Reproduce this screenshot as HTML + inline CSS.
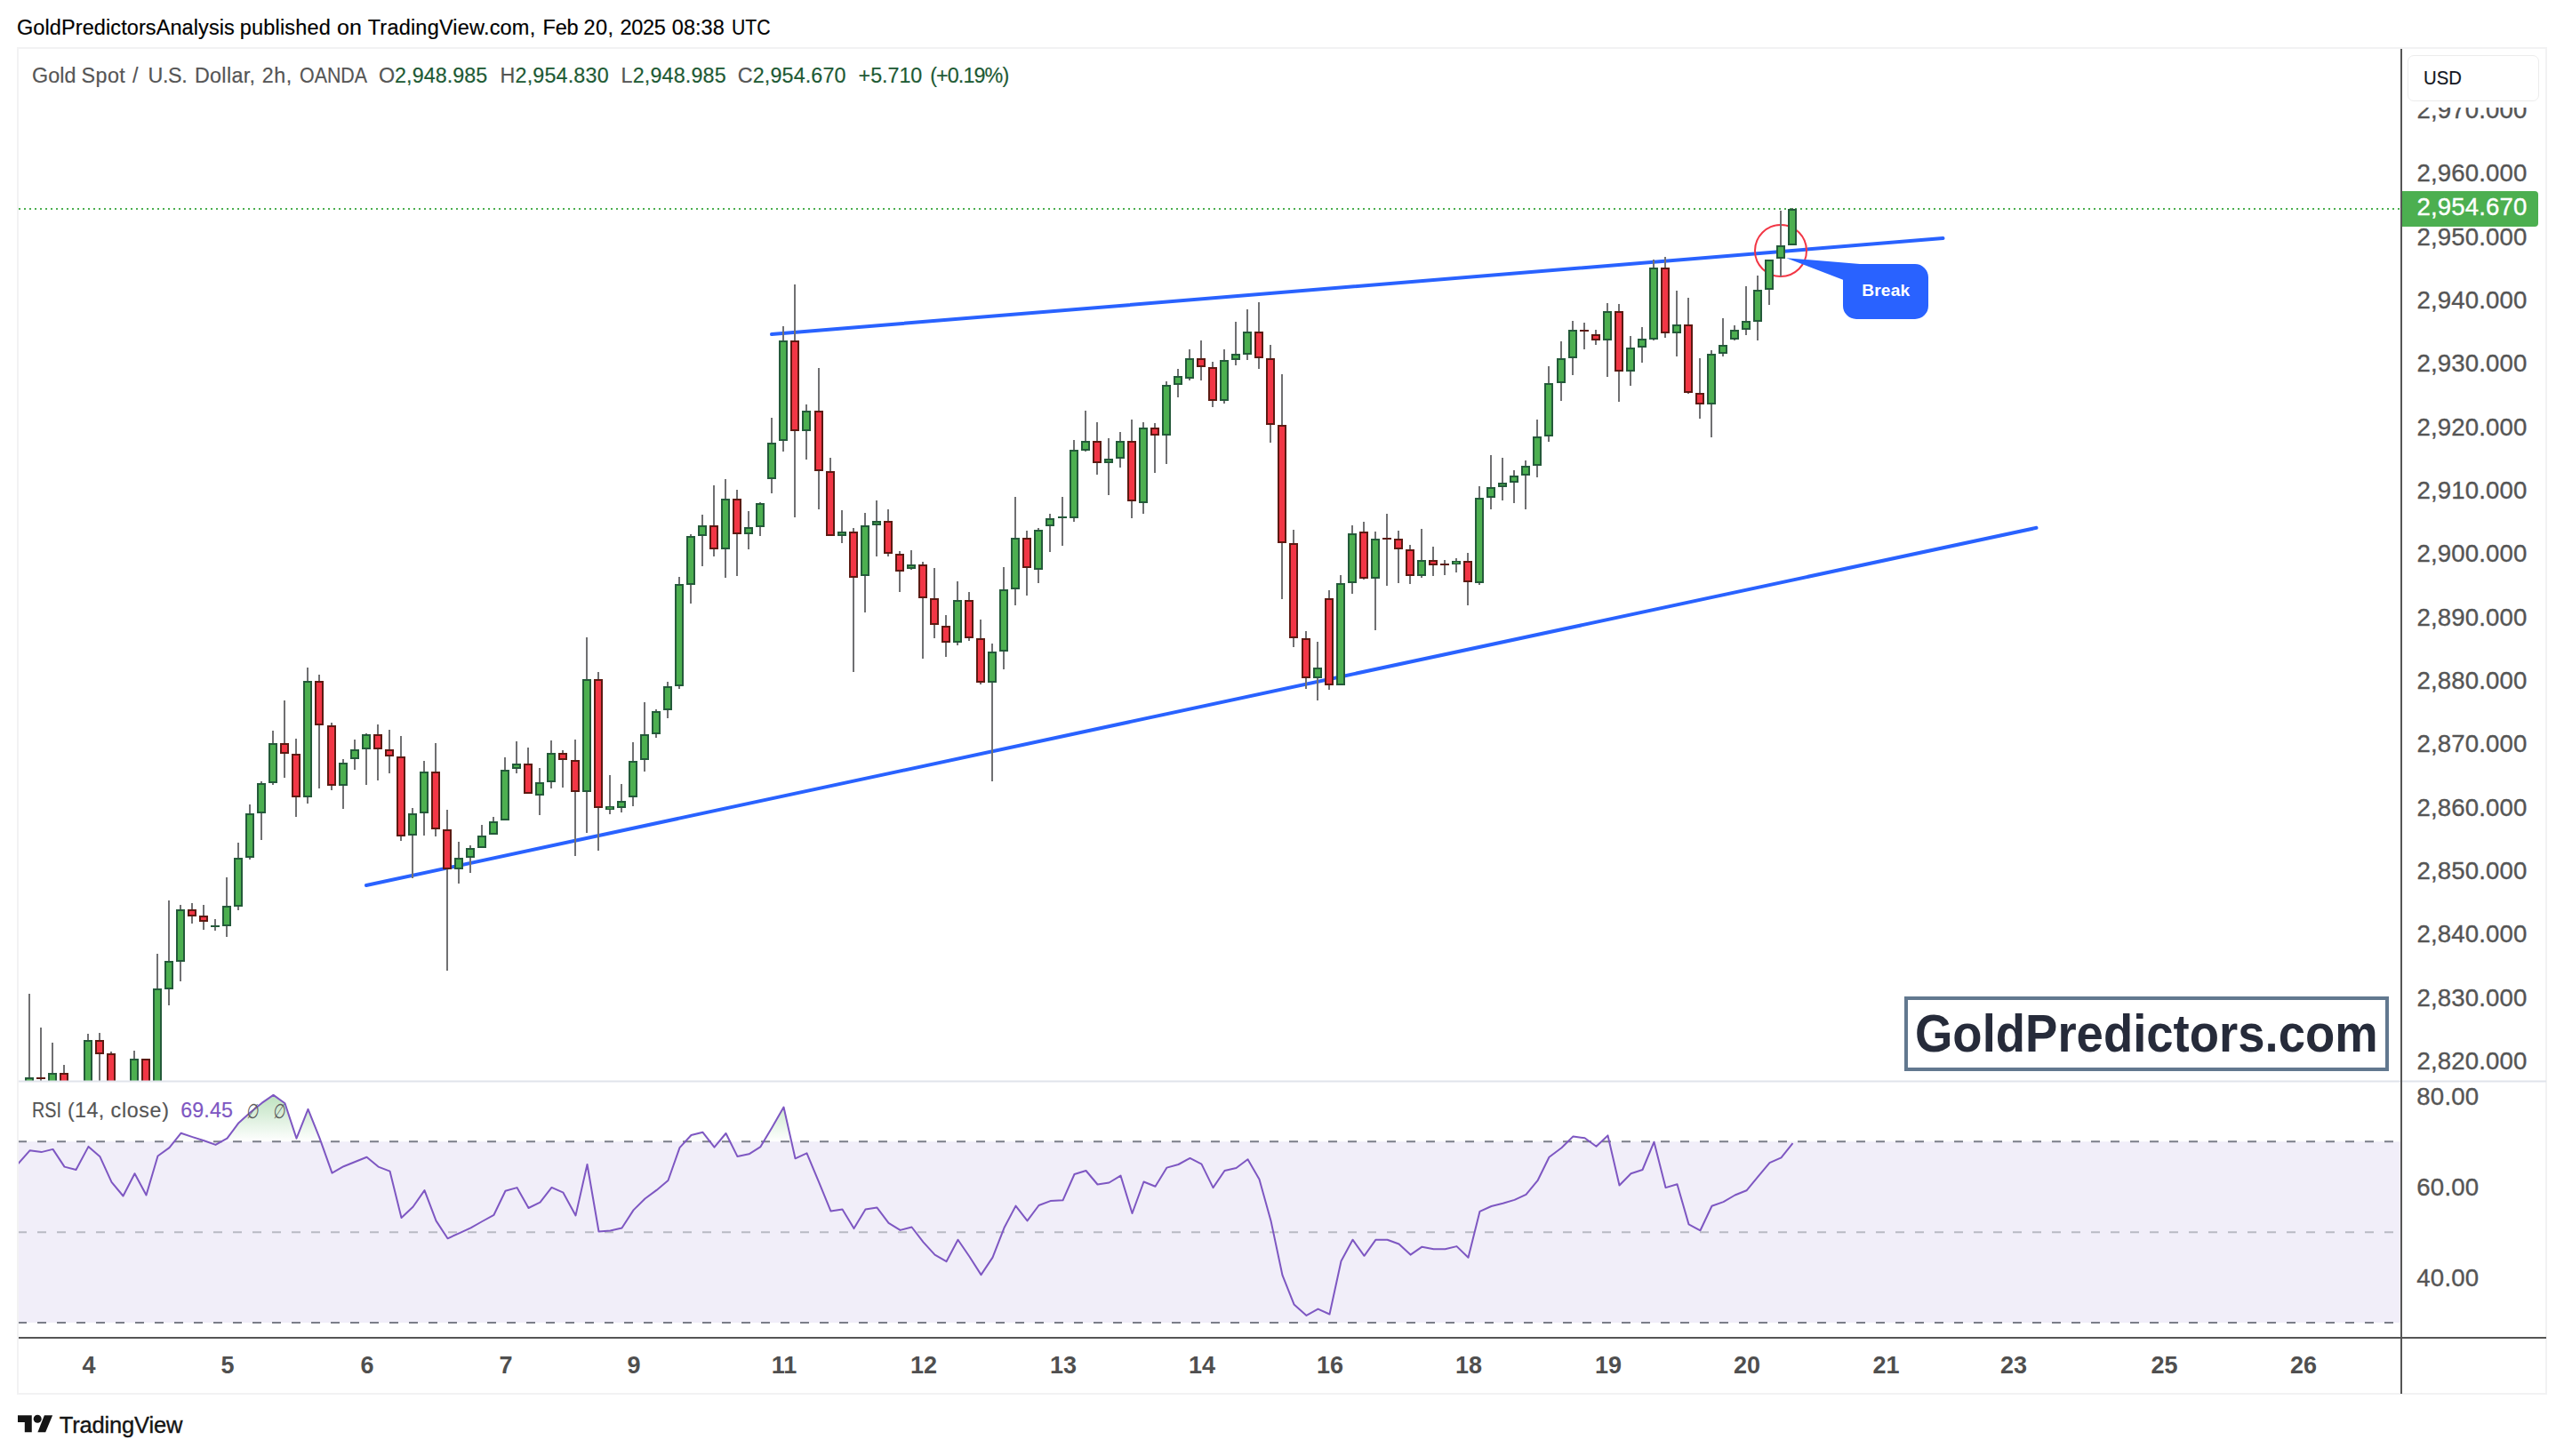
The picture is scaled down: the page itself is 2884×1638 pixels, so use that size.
<!DOCTYPE html>
<html><head><meta charset="utf-8"><title>Gold Spot / U.S. Dollar</title>
<style>
html,body{margin:0;padding:0;background:#fff;}
body{width:2884px;height:1638px;position:relative;overflow:hidden;font-family:"Liberation Sans",sans-serif;}
svg{position:absolute;left:0;top:0;}
.t{position:absolute;white-space:nowrap;line-height:40px;height:40px;-webkit-text-stroke:0.35px currentColor;}
#usdbox{position:absolute;left:2703px;top:56px;width:158px;height:65px;background:#fff;}
#usd{position:absolute;left:2708px;top:62px;width:146px;height:50px;border:1.5px solid #ececec;border-radius:7px;background:#fff;box-sizing:content-box;}
#cur{position:absolute;left:2702px;top:215px;width:153px;height:40px;background:#4caf50;border-radius:0 4px 4px 0;}
#wm{position:absolute;left:2142px;top:1121px;width:537px;height:76px;border:4.5px solid #62788f;background:#fff;}
</style></head><body>
<svg width="2884" height="1638" viewBox="0 0 2884 1638">
<defs>
<clipPath id="cpMain"><rect x="21" y="55" width="2680" height="1161.3"/></clipPath>
<clipPath id="cpRsi"><rect x="21" y="1218" width="2680" height="286"/></clipPath>
<clipPath id="cpOver"><rect x="21" y="1218" width="2680" height="66.29999999999995"/></clipPath>
<linearGradient id="gOver" gradientUnits="userSpaceOnUse" x1="0" y1="1284.3" x2="0" y2="1225"><stop offset="0" stop-color="#4caf50" stop-opacity="0"/><stop offset="1" stop-color="#4caf50" stop-opacity="0.42"/></linearGradient>
</defs>
<!-- frame -->
<rect x="20" y="54" width="2844" height="1514" fill="none" stroke="#f2f2f3" stroke-width="2"/>
<!-- current price dotted line -->
<line x1="21" x2="2701" y1="235" y2="235" stroke="#4caf50" stroke-width="2" stroke-dasharray="2 4"/>
<!-- trend lines -->
<g stroke="#2962ff" stroke-width="4" stroke-linecap="round" fill="none">
<line x1="868" y1="376" x2="2185.5" y2="268"/>
<line x1="412" y1="996" x2="2290.5" y2="593.8"/>
</g>
<circle cx="2003" cy="282" r="29" fill="none" stroke="#f23645" stroke-width="2"/>
<path d="M2009.2,290.2 L2092,297 H2154 a15,15 0 0 1 15,15 V344 a15,15 0 0 1 -15,15 H2088 a15,15 0 0 1 -15,-15 V314.7 Z" fill="#2962ff"/>
<g clip-path="url(#cpMain)">
<g fill="#707072"><rect x="32" y="1118.0" width="2" height="112.0"/><rect x="45" y="1156.0" width="2" height="74.0"/><rect x="58" y="1173.0" width="2" height="57.0"/><rect x="71" y="1198.0" width="2" height="32.0"/><rect x="98" y="1163.0" width="2" height="67.0"/><rect x="111" y="1162.0" width="2" height="68.0"/><rect x="124" y="1183.0" width="2" height="47.0"/><rect x="150" y="1182.0" width="2" height="48.0"/><rect x="163" y="1191.0" width="2" height="39.0"/><rect x="176" y="1073.0" width="2" height="157.0"/><rect x="189" y="1013.0" width="2" height="118.0"/><rect x="202" y="1018.0" width="2" height="86.0"/><rect x="215" y="1016.0" width="2" height="23.0"/><rect x="228" y="1018.0" width="2" height="28.0"/><rect x="241" y="1034.0" width="2" height="13.0"/><rect x="254" y="987.0" width="2" height="67.0"/><rect x="267" y="948.0" width="2" height="76.0"/><rect x="280" y="905.0" width="2" height="62.0"/><rect x="293" y="879.0" width="2" height="66.0"/><rect x="306" y="822.0" width="2" height="61.0"/><rect x="319" y="788.0" width="2" height="87.0"/><rect x="332" y="831.0" width="2" height="88.0"/><rect x="345" y="751.0" width="2" height="153.0"/><rect x="358" y="759.0" width="2" height="128.0"/><rect x="372" y="813.0" width="2" height="76.0"/><rect x="385" y="854.0" width="2" height="56.0"/><rect x="398" y="832.0" width="2" height="34.0"/><rect x="411" y="825.0" width="2" height="58.0"/><rect x="424" y="815.0" width="2" height="63.0"/><rect x="437" y="821.0" width="2" height="49.0"/><rect x="450" y="828.0" width="2" height="118.0"/><rect x="463" y="909.0" width="2" height="79.0"/><rect x="476" y="856.0" width="2" height="84.0"/><rect x="489" y="836.0" width="2" height="105.0"/><rect x="502" y="911.0" width="2" height="181.0"/><rect x="515" y="947.0" width="2" height="47.0"/><rect x="528" y="951.0" width="2" height="31.0"/><rect x="541" y="928.0" width="2" height="26.0"/><rect x="554" y="919.0" width="2" height="20.0"/><rect x="567" y="852.0" width="2" height="71.0"/><rect x="580" y="834.0" width="2" height="36.0"/><rect x="593" y="841.0" width="2" height="52.0"/><rect x="606" y="864.0" width="2" height="53.0"/><rect x="619" y="833.0" width="2" height="54.0"/><rect x="632" y="844.0" width="2" height="42.0"/><rect x="646" y="832.0" width="2" height="131.0"/><rect x="659" y="717.0" width="2" height="220.0"/><rect x="672" y="756.0" width="2" height="201.0"/><rect x="685" y="872.0" width="2" height="44.0"/><rect x="698" y="882.0" width="2" height="32.0"/><rect x="711" y="835.0" width="2" height="72.0"/><rect x="724" y="790.0" width="2" height="78.0"/><rect x="737" y="798.0" width="2" height="32.0"/><rect x="750" y="767.0" width="2" height="41.0"/><rect x="763" y="649.0" width="2" height="126.0"/><rect x="776" y="601.0" width="2" height="78.0"/><rect x="789" y="579.0" width="2" height="58.0"/><rect x="802" y="546.0" width="2" height="80.0"/><rect x="815" y="539.0" width="2" height="111.0"/><rect x="828" y="551.0" width="2" height="97.0"/><rect x="841" y="575.0" width="2" height="43.0"/><rect x="854" y="565.0" width="2" height="38.0"/><rect x="867" y="470.0" width="2" height="85.0"/><rect x="880" y="367.0" width="2" height="141.0"/><rect x="893" y="320.0" width="2" height="262.0"/><rect x="906" y="455.0" width="2" height="62.0"/><rect x="920" y="414.0" width="2" height="159.0"/><rect x="933" y="515.0" width="2" height="88.0"/><rect x="946" y="574.0" width="2" height="37.0"/><rect x="959" y="594.0" width="2" height="162.0"/><rect x="972" y="577.0" width="2" height="112.0"/><rect x="985" y="563.0" width="2" height="63.0"/><rect x="998" y="573.0" width="2" height="53.0"/><rect x="1011" y="620.0" width="2" height="46.0"/><rect x="1024" y="619.0" width="2" height="22.0"/><rect x="1037" y="632.0" width="2" height="109.0"/><rect x="1050" y="639.0" width="2" height="79.0"/><rect x="1063" y="692.0" width="2" height="47.0"/><rect x="1076" y="654.0" width="2" height="72.0"/><rect x="1089" y="666.0" width="2" height="55.0"/><rect x="1102" y="697.0" width="2" height="73.0"/><rect x="1115" y="724.0" width="2" height="155.0"/><rect x="1128" y="638.0" width="2" height="115.0"/><rect x="1141" y="559.0" width="2" height="122.0"/><rect x="1154" y="597.0" width="2" height="73.0"/><rect x="1167" y="594.0" width="2" height="62.0"/><rect x="1180" y="578.0" width="2" height="43.0"/><rect x="1194" y="559.0" width="2" height="55.0"/><rect x="1207" y="495.0" width="2" height="92.0"/><rect x="1220" y="462.0" width="2" height="46.0"/><rect x="1233" y="475.0" width="2" height="59.0"/><rect x="1246" y="493.0" width="2" height="64.0"/><rect x="1259" y="486.0" width="2" height="40.0"/><rect x="1272" y="472.0" width="2" height="111.0"/><rect x="1285" y="475.0" width="2" height="103.0"/><rect x="1298" y="476.0" width="2" height="56.0"/><rect x="1311" y="429.0" width="2" height="93.0"/><rect x="1324" y="415.0" width="2" height="32.0"/><rect x="1337" y="393.0" width="2" height="35.0"/><rect x="1350" y="383.0" width="2" height="45.0"/><rect x="1363" y="407.0" width="2" height="51.0"/><rect x="1376" y="393.0" width="2" height="61.0"/><rect x="1389" y="362.0" width="2" height="49.0"/><rect x="1402" y="348.0" width="2" height="57.0"/><rect x="1415" y="340.0" width="2" height="75.0"/><rect x="1428" y="388.0" width="2" height="110.0"/><rect x="1441" y="421.0" width="2" height="253.0"/><rect x="1454" y="596.0" width="2" height="132.0"/><rect x="1468" y="710.0" width="2" height="65.0"/><rect x="1481" y="722.0" width="2" height="66.0"/><rect x="1494" y="664.0" width="2" height="112.0"/><rect x="1507" y="647.0" width="2" height="124.0"/><rect x="1520" y="591.0" width="2" height="77.0"/><rect x="1533" y="587.0" width="2" height="65.0"/><rect x="1546" y="598.0" width="2" height="111.0"/><rect x="1559" y="578.0" width="2" height="81.0"/><rect x="1572" y="597.0" width="2" height="59.0"/><rect x="1585" y="613.0" width="2" height="44.0"/><rect x="1598" y="595.0" width="2" height="55.0"/><rect x="1611" y="615.0" width="2" height="33.0"/><rect x="1624" y="630.0" width="2" height="17.0"/><rect x="1637" y="628.0" width="2" height="16.0"/><rect x="1650" y="622.0" width="2" height="59.0"/><rect x="1663" y="547.0" width="2" height="111.0"/><rect x="1676" y="512.0" width="2" height="61.0"/><rect x="1689" y="515.0" width="2" height="48.0"/><rect x="1702" y="529.0" width="2" height="37.0"/><rect x="1715" y="518.0" width="2" height="55.0"/><rect x="1728" y="472.0" width="2" height="65.0"/><rect x="1741" y="412.0" width="2" height="85.0"/><rect x="1755" y="384.0" width="2" height="67.0"/><rect x="1768" y="361.0" width="2" height="61.0"/><rect x="1781" y="363.0" width="2" height="30.0"/><rect x="1794" y="371.0" width="2" height="17.0"/><rect x="1807" y="341.0" width="2" height="83.0"/><rect x="1820" y="342.0" width="2" height="110.0"/><rect x="1833" y="378.0" width="2" height="56.0"/><rect x="1846" y="368.0" width="2" height="40.0"/><rect x="1859" y="292.0" width="2" height="91.0"/><rect x="1872" y="289.0" width="2" height="91.0"/><rect x="1885" y="327.0" width="2" height="74.0"/><rect x="1898" y="335.0" width="2" height="108.0"/><rect x="1911" y="403.0" width="2" height="68.0"/><rect x="1924" y="394.0" width="2" height="98.0"/><rect x="1937" y="358.0" width="2" height="43.0"/><rect x="1950" y="366.0" width="2" height="17.0"/><rect x="1963" y="322.0" width="2" height="55.0"/><rect x="1976" y="310.0" width="2" height="73.0"/><rect x="1989" y="292.0" width="2" height="51.0"/><rect x="2002" y="237.0" width="2" height="74.0"/><rect x="2015" y="234.0" width="2" height="42.0"/></g>
<rect x="29" y="1213.0" width="8" height="16.0" fill="#4caf50" stroke="#245a3a" stroke-width="2"/><rect x="41" y="1212.0" width="10" height="2.0" fill="#5c1a12"/><rect x="55" y="1208.0" width="8" height="21.0" fill="#4caf50" stroke="#245a3a" stroke-width="2"/><rect x="68" y="1208.0" width="8" height="21.0" fill="#f23645" stroke="#5c1a12" stroke-width="2"/><rect x="95" y="1171.0" width="8" height="58.0" fill="#4caf50" stroke="#245a3a" stroke-width="2"/><rect x="108" y="1171.0" width="8" height="14.0" fill="#f23645" stroke="#5c1a12" stroke-width="2"/><rect x="121" y="1186.0" width="8" height="43.0" fill="#f23645" stroke="#5c1a12" stroke-width="2"/><rect x="147" y="1192.0" width="8" height="37.0" fill="#4caf50" stroke="#245a3a" stroke-width="2"/><rect x="160" y="1192.0" width="8" height="37.0" fill="#f23645" stroke="#5c1a12" stroke-width="2"/><rect x="173" y="1113.0" width="8" height="116.0" fill="#4caf50" stroke="#245a3a" stroke-width="2"/><rect x="186" y="1082.0" width="8" height="30.0" fill="#4caf50" stroke="#245a3a" stroke-width="2"/><rect x="199" y="1024.0" width="8" height="57.0" fill="#4caf50" stroke="#245a3a" stroke-width="2"/><rect x="212" y="1024.0" width="8" height="6.0" fill="#f23645" stroke="#5c1a12" stroke-width="2"/><rect x="225" y="1031.0" width="8" height="5.0" fill="#f23645" stroke="#5c1a12" stroke-width="2"/><rect x="237" y="1041.0" width="10" height="2.0" fill="#245a3a"/><rect x="251" y="1020.0" width="8" height="21.0" fill="#4caf50" stroke="#245a3a" stroke-width="2"/><rect x="264" y="966.0" width="8" height="53.0" fill="#4caf50" stroke="#245a3a" stroke-width="2"/><rect x="277" y="916.0" width="8" height="48.0" fill="#4caf50" stroke="#245a3a" stroke-width="2"/><rect x="290" y="882.0" width="8" height="32.0" fill="#4caf50" stroke="#245a3a" stroke-width="2"/><rect x="303" y="837.0" width="8" height="43.0" fill="#4caf50" stroke="#245a3a" stroke-width="2"/><rect x="316" y="837.0" width="8" height="10.0" fill="#f23645" stroke="#5c1a12" stroke-width="2"/><rect x="329" y="849.0" width="8" height="47.0" fill="#f23645" stroke="#5c1a12" stroke-width="2"/><rect x="342" y="767.0" width="8" height="129.0" fill="#4caf50" stroke="#245a3a" stroke-width="2"/><rect x="355" y="767.0" width="8" height="48.0" fill="#f23645" stroke="#5c1a12" stroke-width="2"/><rect x="369" y="817.0" width="8" height="66.0" fill="#f23645" stroke="#5c1a12" stroke-width="2"/><rect x="382" y="859.0" width="8" height="24.0" fill="#4caf50" stroke="#245a3a" stroke-width="2"/><rect x="395" y="844.0" width="8" height="9.0" fill="#4caf50" stroke="#245a3a" stroke-width="2"/><rect x="408" y="827.0" width="8" height="15.0" fill="#4caf50" stroke="#245a3a" stroke-width="2"/><rect x="421" y="827.0" width="8" height="15.0" fill="#f23645" stroke="#5c1a12" stroke-width="2"/><rect x="434" y="844.0" width="8" height="6.0" fill="#f23645" stroke="#5c1a12" stroke-width="2"/><rect x="447" y="852.0" width="8" height="88.0" fill="#f23645" stroke="#5c1a12" stroke-width="2"/><rect x="460" y="916.0" width="8" height="23.0" fill="#4caf50" stroke="#245a3a" stroke-width="2"/><rect x="473" y="869.0" width="8" height="45.0" fill="#4caf50" stroke="#245a3a" stroke-width="2"/><rect x="486" y="869.0" width="8" height="63.0" fill="#f23645" stroke="#5c1a12" stroke-width="2"/><rect x="499" y="934.0" width="8" height="43.0" fill="#f23645" stroke="#5c1a12" stroke-width="2"/><rect x="512" y="966.0" width="8" height="11.0" fill="#4caf50" stroke="#245a3a" stroke-width="2"/><rect x="525" y="955.0" width="8" height="9.0" fill="#4caf50" stroke="#245a3a" stroke-width="2"/><rect x="538" y="941.0" width="8" height="12.0" fill="#4caf50" stroke="#245a3a" stroke-width="2"/><rect x="551" y="925.0" width="8" height="13.0" fill="#4caf50" stroke="#245a3a" stroke-width="2"/><rect x="564" y="867.0" width="8" height="55.0" fill="#4caf50" stroke="#245a3a" stroke-width="2"/><rect x="577" y="860.0" width="8" height="4.0" fill="#4caf50" stroke="#245a3a" stroke-width="2"/><rect x="590" y="860.0" width="8" height="32.0" fill="#f23645" stroke="#5c1a12" stroke-width="2"/><rect x="603" y="881.0" width="8" height="13.0" fill="#4caf50" stroke="#245a3a" stroke-width="2"/><rect x="616" y="848.0" width="8" height="31.0" fill="#4caf50" stroke="#245a3a" stroke-width="2"/><rect x="629" y="848.0" width="8" height="6.0" fill="#f23645" stroke="#5c1a12" stroke-width="2"/><rect x="643" y="856.0" width="8" height="34.0" fill="#f23645" stroke="#5c1a12" stroke-width="2"/><rect x="656" y="765.0" width="8" height="125.0" fill="#4caf50" stroke="#245a3a" stroke-width="2"/><rect x="669" y="765.0" width="8" height="143.0" fill="#f23645" stroke="#5c1a12" stroke-width="2"/><rect x="681" y="907.0" width="10" height="4.0" fill="#245a3a"/><rect x="683" y="908.3" width="6" height="1.4" fill="#4caf50"/><rect x="695" y="902.0" width="8" height="6.0" fill="#4caf50" stroke="#245a3a" stroke-width="2"/><rect x="708" y="857.0" width="8" height="39.0" fill="#4caf50" stroke="#245a3a" stroke-width="2"/><rect x="721" y="827.0" width="8" height="27.0" fill="#4caf50" stroke="#245a3a" stroke-width="2"/><rect x="734" y="801.0" width="8" height="24.0" fill="#4caf50" stroke="#245a3a" stroke-width="2"/><rect x="747" y="773.0" width="8" height="25.0" fill="#4caf50" stroke="#245a3a" stroke-width="2"/><rect x="760" y="658.0" width="8" height="113.0" fill="#4caf50" stroke="#245a3a" stroke-width="2"/><rect x="773" y="604.0" width="8" height="53.0" fill="#4caf50" stroke="#245a3a" stroke-width="2"/><rect x="786" y="592.0" width="8" height="10.0" fill="#4caf50" stroke="#245a3a" stroke-width="2"/><rect x="799" y="592.0" width="8" height="25.0" fill="#f23645" stroke="#5c1a12" stroke-width="2"/><rect x="812" y="562.0" width="8" height="55.0" fill="#4caf50" stroke="#245a3a" stroke-width="2"/><rect x="825" y="562.0" width="8" height="38.0" fill="#f23645" stroke="#5c1a12" stroke-width="2"/><rect x="838" y="594.0" width="8" height="6.0" fill="#4caf50" stroke="#245a3a" stroke-width="2"/><rect x="851" y="567.0" width="8" height="25.0" fill="#4caf50" stroke="#245a3a" stroke-width="2"/><rect x="864" y="499.0" width="8" height="39.0" fill="#4caf50" stroke="#245a3a" stroke-width="2"/><rect x="877" y="384.0" width="8" height="111.0" fill="#4caf50" stroke="#245a3a" stroke-width="2"/><rect x="890" y="384.0" width="8" height="100.0" fill="#f23645" stroke="#5c1a12" stroke-width="2"/><rect x="903" y="463.0" width="8" height="21.0" fill="#4caf50" stroke="#245a3a" stroke-width="2"/><rect x="917" y="463.0" width="8" height="66.0" fill="#f23645" stroke="#5c1a12" stroke-width="2"/><rect x="930" y="531.0" width="8" height="71.0" fill="#f23645" stroke="#5c1a12" stroke-width="2"/><rect x="943" y="599.0" width="8" height="3.0" fill="#4caf50" stroke="#245a3a" stroke-width="2"/><rect x="956" y="599.0" width="8" height="50.0" fill="#f23645" stroke="#5c1a12" stroke-width="2"/><rect x="969" y="592.0" width="8" height="55.0" fill="#4caf50" stroke="#245a3a" stroke-width="2"/><rect x="982" y="587.0" width="8" height="3.0" fill="#4caf50" stroke="#245a3a" stroke-width="2"/><rect x="995" y="587.0" width="8" height="35.0" fill="#f23645" stroke="#5c1a12" stroke-width="2"/><rect x="1008" y="624.0" width="8" height="18.0" fill="#f23645" stroke="#5c1a12" stroke-width="2"/><rect x="1021" y="636.0" width="8" height="3.0" fill="#4caf50" stroke="#245a3a" stroke-width="2"/><rect x="1034" y="636.0" width="8" height="36.0" fill="#f23645" stroke="#5c1a12" stroke-width="2"/><rect x="1047" y="674.0" width="8" height="28.0" fill="#f23645" stroke="#5c1a12" stroke-width="2"/><rect x="1060" y="705.0" width="8" height="17.0" fill="#f23645" stroke="#5c1a12" stroke-width="2"/><rect x="1073" y="676.0" width="8" height="46.0" fill="#4caf50" stroke="#245a3a" stroke-width="2"/><rect x="1086" y="676.0" width="8" height="41.0" fill="#f23645" stroke="#5c1a12" stroke-width="2"/><rect x="1099" y="719.0" width="8" height="48.0" fill="#f23645" stroke="#5c1a12" stroke-width="2"/><rect x="1112" y="734.0" width="8" height="33.0" fill="#4caf50" stroke="#245a3a" stroke-width="2"/><rect x="1125" y="664.0" width="8" height="68.0" fill="#4caf50" stroke="#245a3a" stroke-width="2"/><rect x="1138" y="606.0" width="8" height="56.0" fill="#4caf50" stroke="#245a3a" stroke-width="2"/><rect x="1151" y="606.0" width="8" height="32.0" fill="#f23645" stroke="#5c1a12" stroke-width="2"/><rect x="1164" y="597.0" width="8" height="43.0" fill="#4caf50" stroke="#245a3a" stroke-width="2"/><rect x="1177" y="584.0" width="8" height="7.0" fill="#4caf50" stroke="#245a3a" stroke-width="2"/><rect x="1190" y="581.0" width="10" height="2.0" fill="#245a3a"/><rect x="1204" y="507.0" width="8" height="75.0" fill="#4caf50" stroke="#245a3a" stroke-width="2"/><rect x="1217" y="497.0" width="8" height="9.0" fill="#4caf50" stroke="#245a3a" stroke-width="2"/><rect x="1230" y="497.0" width="8" height="23.0" fill="#f23645" stroke="#5c1a12" stroke-width="2"/><rect x="1243" y="517.0" width="8" height="3.0" fill="#4caf50" stroke="#245a3a" stroke-width="2"/><rect x="1256" y="497.0" width="8" height="18.0" fill="#4caf50" stroke="#245a3a" stroke-width="2"/><rect x="1269" y="497.0" width="8" height="66.0" fill="#f23645" stroke="#5c1a12" stroke-width="2"/><rect x="1282" y="482.0" width="8" height="83.0" fill="#4caf50" stroke="#245a3a" stroke-width="2"/><rect x="1295" y="482.0" width="8" height="7.0" fill="#f23645" stroke="#5c1a12" stroke-width="2"/><rect x="1308" y="434.0" width="8" height="55.0" fill="#4caf50" stroke="#245a3a" stroke-width="2"/><rect x="1321" y="424.0" width="8" height="8.0" fill="#4caf50" stroke="#245a3a" stroke-width="2"/><rect x="1334" y="404.0" width="8" height="21.0" fill="#4caf50" stroke="#245a3a" stroke-width="2"/><rect x="1347" y="404.0" width="8" height="8.0" fill="#f23645" stroke="#5c1a12" stroke-width="2"/><rect x="1360" y="414.0" width="8" height="36.0" fill="#f23645" stroke="#5c1a12" stroke-width="2"/><rect x="1373" y="406.0" width="8" height="44.0" fill="#4caf50" stroke="#245a3a" stroke-width="2"/><rect x="1386" y="399.0" width="8" height="5.0" fill="#4caf50" stroke="#245a3a" stroke-width="2"/><rect x="1399" y="374.0" width="8" height="24.0" fill="#4caf50" stroke="#245a3a" stroke-width="2"/><rect x="1412" y="374.0" width="8" height="28.0" fill="#f23645" stroke="#5c1a12" stroke-width="2"/><rect x="1425" y="404.0" width="8" height="73.0" fill="#f23645" stroke="#5c1a12" stroke-width="2"/><rect x="1438" y="479.0" width="8" height="131.0" fill="#f23645" stroke="#5c1a12" stroke-width="2"/><rect x="1451" y="612.0" width="8" height="105.0" fill="#f23645" stroke="#5c1a12" stroke-width="2"/><rect x="1465" y="719.0" width="8" height="43.0" fill="#f23645" stroke="#5c1a12" stroke-width="2"/><rect x="1478" y="752.0" width="8" height="10.0" fill="#4caf50" stroke="#245a3a" stroke-width="2"/><rect x="1491" y="674.0" width="8" height="96.0" fill="#f23645" stroke="#5c1a12" stroke-width="2"/><rect x="1504" y="657.0" width="8" height="113.0" fill="#4caf50" stroke="#245a3a" stroke-width="2"/><rect x="1517" y="601.0" width="8" height="54.0" fill="#4caf50" stroke="#245a3a" stroke-width="2"/><rect x="1530" y="599.0" width="8" height="51.0" fill="#f23645" stroke="#5c1a12" stroke-width="2"/><rect x="1543" y="607.0" width="8" height="43.0" fill="#4caf50" stroke="#245a3a" stroke-width="2"/><rect x="1555" y="605.0" width="10" height="2.0" fill="#5c1a12"/><rect x="1569" y="607.0" width="8" height="10.0" fill="#f23645" stroke="#5c1a12" stroke-width="2"/><rect x="1582" y="619.0" width="8" height="28.0" fill="#f23645" stroke="#5c1a12" stroke-width="2"/><rect x="1595" y="631.0" width="8" height="16.0" fill="#4caf50" stroke="#245a3a" stroke-width="2"/><rect x="1608" y="631.0" width="8" height="4.0" fill="#f23645" stroke="#5c1a12" stroke-width="2"/><rect x="1620" y="634.0" width="10" height="2.0" fill="#5c1a12"/><rect x="1633" y="631.0" width="10" height="4.0" fill="#245a3a"/><rect x="1635" y="632.3" width="6" height="1.4" fill="#4caf50"/><rect x="1647" y="632.0" width="8" height="22.0" fill="#f23645" stroke="#5c1a12" stroke-width="2"/><rect x="1660" y="561.0" width="8" height="94.0" fill="#4caf50" stroke="#245a3a" stroke-width="2"/><rect x="1673" y="549.0" width="8" height="10.0" fill="#4caf50" stroke="#245a3a" stroke-width="2"/><rect x="1686" y="544.0" width="8" height="3.0" fill="#4caf50" stroke="#245a3a" stroke-width="2"/><rect x="1699" y="536.0" width="8" height="6.0" fill="#4caf50" stroke="#245a3a" stroke-width="2"/><rect x="1712" y="525.0" width="8" height="9.0" fill="#4caf50" stroke="#245a3a" stroke-width="2"/><rect x="1725" y="492.0" width="8" height="31.0" fill="#4caf50" stroke="#245a3a" stroke-width="2"/><rect x="1738" y="432.0" width="8" height="58.0" fill="#4caf50" stroke="#245a3a" stroke-width="2"/><rect x="1752" y="404.0" width="8" height="26.0" fill="#4caf50" stroke="#245a3a" stroke-width="2"/><rect x="1765" y="372.0" width="8" height="30.0" fill="#4caf50" stroke="#245a3a" stroke-width="2"/><rect x="1777" y="371.0" width="10" height="2.0" fill="#5c1a12"/><rect x="1791" y="377.0" width="8" height="5.0" fill="#f23645" stroke="#5c1a12" stroke-width="2"/><rect x="1804" y="351.0" width="8" height="31.0" fill="#4caf50" stroke="#245a3a" stroke-width="2"/><rect x="1817" y="351.0" width="8" height="66.0" fill="#f23645" stroke="#5c1a12" stroke-width="2"/><rect x="1830" y="392.0" width="8" height="25.0" fill="#4caf50" stroke="#245a3a" stroke-width="2"/><rect x="1843" y="382.0" width="8" height="8.0" fill="#4caf50" stroke="#245a3a" stroke-width="2"/><rect x="1856" y="302.0" width="8" height="79.0" fill="#4caf50" stroke="#245a3a" stroke-width="2"/><rect x="1869" y="302.0" width="8" height="72.0" fill="#f23645" stroke="#5c1a12" stroke-width="2"/><rect x="1882" y="366.0" width="8" height="8.0" fill="#4caf50" stroke="#245a3a" stroke-width="2"/><rect x="1895" y="366.0" width="8" height="75.0" fill="#f23645" stroke="#5c1a12" stroke-width="2"/><rect x="1908" y="443.0" width="8" height="11.0" fill="#f23645" stroke="#5c1a12" stroke-width="2"/><rect x="1921" y="399.0" width="8" height="55.0" fill="#4caf50" stroke="#245a3a" stroke-width="2"/><rect x="1934" y="389.0" width="8" height="8.0" fill="#4caf50" stroke="#245a3a" stroke-width="2"/><rect x="1947" y="372.0" width="8" height="9.0" fill="#4caf50" stroke="#245a3a" stroke-width="2"/><rect x="1960" y="362.0" width="8" height="8.0" fill="#4caf50" stroke="#245a3a" stroke-width="2"/><rect x="1973" y="327.0" width="8" height="34.0" fill="#4caf50" stroke="#245a3a" stroke-width="2"/><rect x="1986" y="293.0" width="8" height="32.0" fill="#4caf50" stroke="#245a3a" stroke-width="2"/><rect x="1999" y="277.0" width="8" height="13.0" fill="#4caf50" stroke="#245a3a" stroke-width="2"/><rect x="2012" y="236.0" width="8" height="39.0" fill="#4caf50" stroke="#245a3a" stroke-width="2"/>
</g>
<!-- pane separator -->
<rect x="21" y="1215.5" width="2843" height="2" fill="#e0e3eb"/>
<g clip-path="url(#cpRsi)">
<rect x="21" y="1284.3" width="2680" height="203.70000000000005" fill="#f1eef9"/>
<g clip-path="url(#cpOver)"><path d="M20.5,1284.3 L20.5,1309.2 L33.5,1294.3 L46.5,1296.1 L59.5,1292.9 L72.5,1312.6 L85.5,1316.0 L99.5,1289.9 L112.5,1301.3 L125.5,1329.9 L138.5,1345.5 L151.5,1320.2 L164.5,1344.5 L177.5,1300.5 L190.5,1291.1 L203.5,1274.8 L216.5,1279.1 L229.5,1283.3 L242.5,1287.9 L255.5,1280.7 L268.5,1263.2 L281.5,1251.5 L294.5,1240.9 L307.5,1231.9 L320.5,1241.3 L333.5,1280.7 L346.5,1247.9 L359.5,1280.3 L373.5,1319.6 L386.5,1312.2 L399.5,1307.0 L412.5,1301.7 L425.5,1312.6 L438.5,1317.6 L451.5,1370.0 L464.5,1357.8 L477.5,1339.1 L490.5,1373.4 L503.5,1393.3 L516.5,1387.3 L529.5,1381.3 L542.5,1374.0 L555.5,1366.8 L568.5,1339.7 L581.5,1336.1 L594.5,1359.0 L607.5,1352.7 L620.5,1335.9 L633.5,1341.7 L647.5,1367.4 L660.5,1310.0 L673.5,1385.5 L686.5,1384.5 L699.5,1381.5 L712.5,1361.4 L725.5,1348.5 L738.5,1338.9 L751.5,1328.0 L764.5,1291.1 L777.5,1277.0 L790.5,1273.8 L803.5,1290.7 L816.5,1275.0 L829.5,1301.1 L842.5,1298.3 L855.5,1290.1 L868.5,1268.2 L881.5,1245.5 L894.5,1303.3 L907.5,1297.3 L921.5,1330.9 L934.5,1362.6 L947.5,1360.6 L960.5,1382.1 L973.5,1360.6 L986.5,1358.6 L999.5,1375.8 L1012.5,1383.9 L1025.5,1380.5 L1038.5,1397.3 L1051.5,1411.6 L1064.5,1419.2 L1077.5,1394.7 L1090.5,1413.8 L1103.5,1434.1 L1116.5,1414.6 L1129.5,1381.3 L1142.5,1356.6 L1155.5,1373.4 L1168.5,1356.0 L1181.5,1351.1 L1195.5,1350.3 L1208.5,1321.0 L1221.5,1317.0 L1234.5,1332.5 L1247.5,1330.5 L1260.5,1322.6 L1273.5,1365.0 L1286.5,1329.5 L1299.5,1334.7 L1312.5,1313.6 L1325.5,1310.0 L1338.5,1302.9 L1351.5,1309.6 L1364.5,1336.1 L1377.5,1317.0 L1390.5,1314.0 L1403.5,1304.2 L1416.5,1326.8 L1429.5,1373.4 L1442.5,1434.7 L1455.5,1467.4 L1469.5,1479.9 L1482.5,1472.6 L1495.5,1478.5 L1508.5,1418.8 L1521.5,1394.7 L1534.5,1412.8 L1547.5,1394.7 L1560.5,1394.7 L1573.5,1399.5 L1586.5,1411.6 L1599.5,1402.7 L1612.5,1405.2 L1625.5,1405.2 L1638.5,1402.1 L1651.5,1414.8 L1664.5,1362.8 L1677.5,1357.0 L1690.5,1353.8 L1703.5,1349.9 L1716.5,1343.9 L1729.5,1328.2 L1742.5,1301.7 L1756.5,1291.3 L1769.5,1278.4 L1782.5,1280.3 L1795.5,1289.7 L1808.5,1277.4 L1821.5,1333.5 L1834.5,1320.2 L1847.5,1316.0 L1860.5,1284.7 L1873.5,1336.1 L1886.5,1332.3 L1899.5,1377.4 L1912.5,1384.3 L1925.5,1356.8 L1938.5,1352.1 L1951.5,1344.5 L1964.5,1339.3 L1977.5,1323.6 L1990.5,1308.2 L2003.5,1302.3 L2016.5,1286.1 L2016.5,1284.3 Z" fill="url(#gOver)"/></g>
<line x1="20" x2="2701" y1="1284.3" y2="1284.3" stroke="#7b7e89" stroke-width="2" stroke-dasharray="10 12"/>
<line x1="20" x2="2701" y1="1386.2" y2="1386.2" stroke="#b9bac4" stroke-width="2" stroke-dasharray="10 12"/>
<line x1="20" x2="2701" y1="1488.0" y2="1488.0" stroke="#7b7e89" stroke-width="2" stroke-dasharray="10 12"/>
<polyline points="20.5,1309.2 33.5,1294.3 46.5,1296.1 59.5,1292.9 72.5,1312.6 85.5,1316.0 99.5,1289.9 112.5,1301.3 125.5,1329.9 138.5,1345.5 151.5,1320.2 164.5,1344.5 177.5,1300.5 190.5,1291.1 203.5,1274.8 216.5,1279.1 229.5,1283.3 242.5,1287.9 255.5,1280.7 268.5,1263.2 281.5,1251.5 294.5,1240.9 307.5,1231.9 320.5,1241.3 333.5,1280.7 346.5,1247.9 359.5,1280.3 373.5,1319.6 386.5,1312.2 399.5,1307.0 412.5,1301.7 425.5,1312.6 438.5,1317.6 451.5,1370.0 464.5,1357.8 477.5,1339.1 490.5,1373.4 503.5,1393.3 516.5,1387.3 529.5,1381.3 542.5,1374.0 555.5,1366.8 568.5,1339.7 581.5,1336.1 594.5,1359.0 607.5,1352.7 620.5,1335.9 633.5,1341.7 647.5,1367.4 660.5,1310.0 673.5,1385.5 686.5,1384.5 699.5,1381.5 712.5,1361.4 725.5,1348.5 738.5,1338.9 751.5,1328.0 764.5,1291.1 777.5,1277.0 790.5,1273.8 803.5,1290.7 816.5,1275.0 829.5,1301.1 842.5,1298.3 855.5,1290.1 868.5,1268.2 881.5,1245.5 894.5,1303.3 907.5,1297.3 921.5,1330.9 934.5,1362.6 947.5,1360.6 960.5,1382.1 973.5,1360.6 986.5,1358.6 999.5,1375.8 1012.5,1383.9 1025.5,1380.5 1038.5,1397.3 1051.5,1411.6 1064.5,1419.2 1077.5,1394.7 1090.5,1413.8 1103.5,1434.1 1116.5,1414.6 1129.5,1381.3 1142.5,1356.6 1155.5,1373.4 1168.5,1356.0 1181.5,1351.1 1195.5,1350.3 1208.5,1321.0 1221.5,1317.0 1234.5,1332.5 1247.5,1330.5 1260.5,1322.6 1273.5,1365.0 1286.5,1329.5 1299.5,1334.7 1312.5,1313.6 1325.5,1310.0 1338.5,1302.9 1351.5,1309.6 1364.5,1336.1 1377.5,1317.0 1390.5,1314.0 1403.5,1304.2 1416.5,1326.8 1429.5,1373.4 1442.5,1434.7 1455.5,1467.4 1469.5,1479.9 1482.5,1472.6 1495.5,1478.5 1508.5,1418.8 1521.5,1394.7 1534.5,1412.8 1547.5,1394.7 1560.5,1394.7 1573.5,1399.5 1586.5,1411.6 1599.5,1402.7 1612.5,1405.2 1625.5,1405.2 1638.5,1402.1 1651.5,1414.8 1664.5,1362.8 1677.5,1357.0 1690.5,1353.8 1703.5,1349.9 1716.5,1343.9 1729.5,1328.2 1742.5,1301.7 1756.5,1291.3 1769.5,1278.4 1782.5,1280.3 1795.5,1289.7 1808.5,1277.4 1821.5,1333.5 1834.5,1320.2 1847.5,1316.0 1860.5,1284.7 1873.5,1336.1 1886.5,1332.3 1899.5,1377.4 1912.5,1384.3 1925.5,1356.8 1938.5,1352.1 1951.5,1344.5 1964.5,1339.3 1977.5,1323.6 1990.5,1308.2 2003.5,1302.3 2016.5,1286.1" fill="none" stroke="#7e57c2" stroke-width="2" stroke-linejoin="round"/>
</g>
<!-- axes -->
<rect x="2700" y="55" width="2" height="1513" fill="#555555"/>
<rect x="21" y="1504" width="2843" height="2" fill="#555555"/>
<!-- TradingView logo -->
<g fill="#141414"><path d="M20,1592.3 H35.75 V1611.3 H27.8 V1599.9 H20 Z"/><circle cx="42.2" cy="1596.3" r="4.5"/><path d="M49.9,1592.3 H59.1 L51.2,1611.3 H42.4 Z"/></g>
</svg>
<div class="t" style="left:2718.6px;top:104.0px;font-size:27.6px;color:#555;letter-spacing:0.13px;">2,970.000</div><div class="t" style="left:2718.6px;top:175.3px;font-size:27.6px;color:#555;letter-spacing:0.13px;">2,960.000</div><div class="t" style="left:2718.6px;top:246.7px;font-size:27.6px;color:#555;letter-spacing:0.13px;">2,950.000</div><div class="t" style="left:2718.6px;top:318.0px;font-size:27.6px;color:#555;letter-spacing:0.13px;">2,940.000</div><div class="t" style="left:2718.6px;top:389.4px;font-size:27.6px;color:#555;letter-spacing:0.13px;">2,930.000</div><div class="t" style="left:2718.6px;top:460.7px;font-size:27.6px;color:#555;letter-spacing:0.13px;">2,920.000</div><div class="t" style="left:2718.6px;top:532.0px;font-size:27.6px;color:#555;letter-spacing:0.13px;">2,910.000</div><div class="t" style="left:2718.6px;top:603.4px;font-size:27.6px;color:#555;letter-spacing:0.13px;">2,900.000</div><div class="t" style="left:2718.6px;top:674.7px;font-size:27.6px;color:#555;letter-spacing:0.13px;">2,890.000</div><div class="t" style="left:2718.6px;top:746.1px;font-size:27.6px;color:#555;letter-spacing:0.13px;">2,880.000</div><div class="t" style="left:2718.6px;top:817.4px;font-size:27.6px;color:#555;letter-spacing:0.13px;">2,870.000</div><div class="t" style="left:2718.6px;top:888.7px;font-size:27.6px;color:#555;letter-spacing:0.13px;">2,860.000</div><div class="t" style="left:2718.6px;top:960.1px;font-size:27.6px;color:#555;letter-spacing:0.13px;">2,850.000</div><div class="t" style="left:2718.6px;top:1031.4px;font-size:27.6px;color:#555;letter-spacing:0.13px;">2,840.000</div><div class="t" style="left:2718.6px;top:1102.8px;font-size:27.6px;color:#555;letter-spacing:0.13px;">2,830.000</div><div class="t" style="left:2718.6px;top:1174.1px;font-size:27.6px;color:#555;letter-spacing:0.13px;">2,820.000</div>
<div id="usdbox"></div>
<div id="usd"></div>
<div id="cur"></div>
<div id="wm"></div>
<div class="t" style="left:19.0px;top:10.5px;font-size:23.5px;color:#000;-webkit-text-stroke-width:0.18px;letter-spacing:0.09px;">GoldPredictorsAnalysis</div>
<div class="t" style="left:269.8px;top:10.5px;font-size:23.5px;color:#000;-webkit-text-stroke-width:0.18px;letter-spacing:0.18px;">published</div>
<div class="t" style="left:378.9px;top:10.5px;font-size:23.5px;color:#000;-webkit-text-stroke-width:0.18px;transform-origin:0 50%;transform:scaleX(1.0618);">on</div>
<div class="t" style="left:413.7px;top:10.5px;font-size:23.5px;color:#000;-webkit-text-stroke-width:0.18px;letter-spacing:0.20px;">TradingView.com,</div>
<div class="t" style="left:610.6px;top:10.5px;font-size:23.5px;color:#000;-webkit-text-stroke-width:0.18px;letter-spacing:-0.22px;">Feb</div>
<div class="t" style="left:656.5px;top:10.5px;font-size:23.5px;color:#000;-webkit-text-stroke-width:0.18px;letter-spacing:0.49px;">20,</div>
<div class="t" style="left:697.5px;top:10.5px;font-size:23.5px;color:#000;-webkit-text-stroke-width:0.18px;letter-spacing:-0.34px;">2025</div>
<div class="t" style="left:755.8px;top:10.5px;font-size:23.5px;color:#000;-webkit-text-stroke-width:0.18px;letter-spacing:0.04px;">08:38</div>
<div class="t" style="left:822.7px;top:10.5px;font-size:23.5px;color:#000;-webkit-text-stroke-width:0.18px;transform-origin:0 50%;transform:scaleX(0.8997);">UTC</div>
<div class="t" style="left:36.0px;top:64.7px;font-size:23.3px;color:#555;-webkit-text-stroke-width:0.18px;letter-spacing:0.10px;">Gold</div>
<div class="t" style="left:91.5px;top:64.7px;font-size:23.3px;color:#555;-webkit-text-stroke-width:0.18px;letter-spacing:0.46px;">Spot</div>
<div class="t" style="left:149.1px;top:64.7px;font-size:23.3px;color:#555;-webkit-text-stroke-width:0.18px;">/</div>
<div class="t" style="left:166.5px;top:64.7px;font-size:23.3px;color:#555;-webkit-text-stroke-width:0.18px;letter-spacing:-0.36px;">U.S.</div>
<div class="t" style="left:218.9px;top:64.7px;font-size:23.3px;color:#555;-webkit-text-stroke-width:0.18px;letter-spacing:0.35px;">Dollar,</div>
<div class="t" style="left:294.7px;top:64.7px;font-size:23.3px;color:#555;-webkit-text-stroke-width:0.18px;letter-spacing:0.57px;">2h,</div>
<div class="t" style="left:336.6px;top:64.7px;font-size:23.3px;color:#555;-webkit-text-stroke-width:0.18px;transform-origin:0 50%;transform:scaleX(0.9176);">OANDA</div>
<div class="t" style="left:425.9px;top:64.7px;font-size:23.3px;color:#555;-webkit-text-stroke-width:0.18px;letter-spacing:0.07px;">O<span style="color:#1d5a34">2,948.985</span></div>
<div class="t" style="left:562.5px;top:64.7px;font-size:23.3px;color:#555;-webkit-text-stroke-width:0.18px;letter-spacing:0.18px;">H<span style="color:#1d5a34">2,954.830</span></div>
<div class="t" style="left:698.6px;top:64.7px;font-size:23.3px;color:#555;-webkit-text-stroke-width:0.18px;letter-spacing:0.16px;">L<span style="color:#1d5a34">2,948.985</span></div>
<div class="t" style="left:829.8px;top:64.7px;font-size:23.3px;color:#555;-webkit-text-stroke-width:0.18px;letter-spacing:0.13px;">C<span style="color:#1d5a34">2,954.670</span></div>
<div class="t" style="left:965.6px;top:64.7px;font-size:23.3px;color:#1d5a34;-webkit-text-stroke-width:0.18px;letter-spacing:-0.04px;">+5.710</div>
<div class="t" style="left:1046.2px;top:64.7px;font-size:23.3px;color:#1d5a34;-webkit-text-stroke-width:0.18px;letter-spacing:-0.88px;">(+0.19%)</div>
<div class="t" style="left:2718.3px;top:1213.8px;font-size:27.6px;color:#555;letter-spacing:0.21px;">80.00</div>
<div class="t" style="left:2718.3px;top:1316.0px;font-size:27.6px;color:#555;letter-spacing:0.21px;">60.00</div>
<div class="t" style="left:2718.3px;top:1418.0px;font-size:27.6px;color:#555;letter-spacing:0.21px;">40.00</div>
<div class="t" style="left:92.5px;top:1515.6px;font-size:27px;color:#4f4f4f;font-weight:700;-webkit-text-stroke:0;">4</div>
<div class="t" style="left:248.5px;top:1515.6px;font-size:27px;color:#4f4f4f;font-weight:700;-webkit-text-stroke:0;">5</div>
<div class="t" style="left:405.5px;top:1515.6px;font-size:27px;color:#4f4f4f;font-weight:700;-webkit-text-stroke:0;">6</div>
<div class="t" style="left:561.5px;top:1515.6px;font-size:27px;color:#4f4f4f;font-weight:700;-webkit-text-stroke:0;">7</div>
<div class="t" style="left:705.5px;top:1515.6px;font-size:27px;color:#4f4f4f;font-weight:700;-webkit-text-stroke:0;">9</div>
<div class="t" style="left:867.7px;top:1515.6px;font-size:27px;color:#4f4f4f;font-weight:700;-webkit-text-stroke:0;">11</div>
<div class="t" style="left:1024.0px;top:1515.6px;font-size:27px;color:#4f4f4f;font-weight:700;-webkit-text-stroke:0;">12</div>
<div class="t" style="left:1181.0px;top:1515.6px;font-size:27px;color:#4f4f4f;font-weight:700;-webkit-text-stroke:0;">13</div>
<div class="t" style="left:1337.0px;top:1515.6px;font-size:27px;color:#4f4f4f;font-weight:700;-webkit-text-stroke:0;">14</div>
<div class="t" style="left:1481.0px;top:1515.6px;font-size:27px;color:#4f4f4f;font-weight:700;-webkit-text-stroke:0;">16</div>
<div class="t" style="left:1637.0px;top:1515.6px;font-size:27px;color:#4f4f4f;font-weight:700;-webkit-text-stroke:0;">18</div>
<div class="t" style="left:1794.0px;top:1515.6px;font-size:27px;color:#4f4f4f;font-weight:700;-webkit-text-stroke:0;">19</div>
<div class="t" style="left:1950.0px;top:1515.6px;font-size:27px;color:#4f4f4f;font-weight:700;-webkit-text-stroke:0;">20</div>
<div class="t" style="left:2106.4px;top:1515.6px;font-size:27px;color:#4f4f4f;font-weight:700;-webkit-text-stroke:0;">21</div>
<div class="t" style="left:2249.9px;top:1515.6px;font-size:27px;color:#4f4f4f;font-weight:700;-webkit-text-stroke:0;">23</div>
<div class="t" style="left:2419.5px;top:1515.6px;font-size:27px;color:#4f4f4f;font-weight:700;-webkit-text-stroke:0;">25</div>
<div class="t" style="left:2576.0px;top:1515.6px;font-size:27px;color:#4f4f4f;font-weight:700;-webkit-text-stroke:0;">26</div>
<div class="t" style="left:35.5px;top:1228.8px;font-size:23.2px;color:#555;-webkit-text-stroke-width:0.18px;transform-origin:0 50%;transform:scaleX(0.8515);">RSI</div>
<div class="t" style="left:75.9px;top:1228.8px;font-size:23.2px;color:#555;-webkit-text-stroke-width:0.18px;letter-spacing:0.45px;">(14,</div>
<div class="t" style="left:124.6px;top:1228.8px;font-size:23.2px;color:#555;-webkit-text-stroke-width:0.18px;letter-spacing:0.69px;">close)</div>
<div class="t" style="left:203.2px;top:1228.8px;font-size:23.2px;color:#7e57c2;-webkit-text-stroke-width:0.18px;letter-spacing:0.19px;">69.45</div>
<div class="t" style="left:274.8px;top:1231.2px;font-size:21.5px;color:#5c5c5c;-webkit-text-stroke-width:0.18px;transform:scaleX(0.74) scaleY(1.06) skewX(-8deg);-webkit-text-stroke:0;">∅</div>
<div class="t" style="left:305.3px;top:1231.2px;font-size:21.5px;color:#5c5c5c;-webkit-text-stroke-width:0.18px;transform:scaleX(0.74) scaleY(1.06) skewX(-8deg);-webkit-text-stroke:0;">∅</div>
<div class="t" style="left:2094.2px;top:307.2px;font-size:19.2px;color:#fff;font-weight:700;-webkit-text-stroke:0;letter-spacing:0.16px;">Break</div>
<div class="t" style="left:66.8px;top:1582.8px;font-size:25.5px;color:#141414;letter-spacing:-0.17px;">TradingView</div>
<div class="t" style="left:2725.7px;top:67.7px;font-size:21.8px;color:#131722;-webkit-text-stroke-width:0.18px;transform-origin:0 50%;transform:scaleX(0.9305);">USD</div>
<div class="t" style="left:2718.6px;top:213.3px;font-size:27.6px;color:#fff;letter-spacing:0.13px;">2,954.670</div>
<div class="t" style="left:2153.5px;top:1143.1px;font-size:59px;color:#262b3a;font-weight:700;-webkit-text-stroke:0;transform-origin:0 50%;transform:scaleX(0.9233);">GoldPredictors.com</div>
</body></html>
